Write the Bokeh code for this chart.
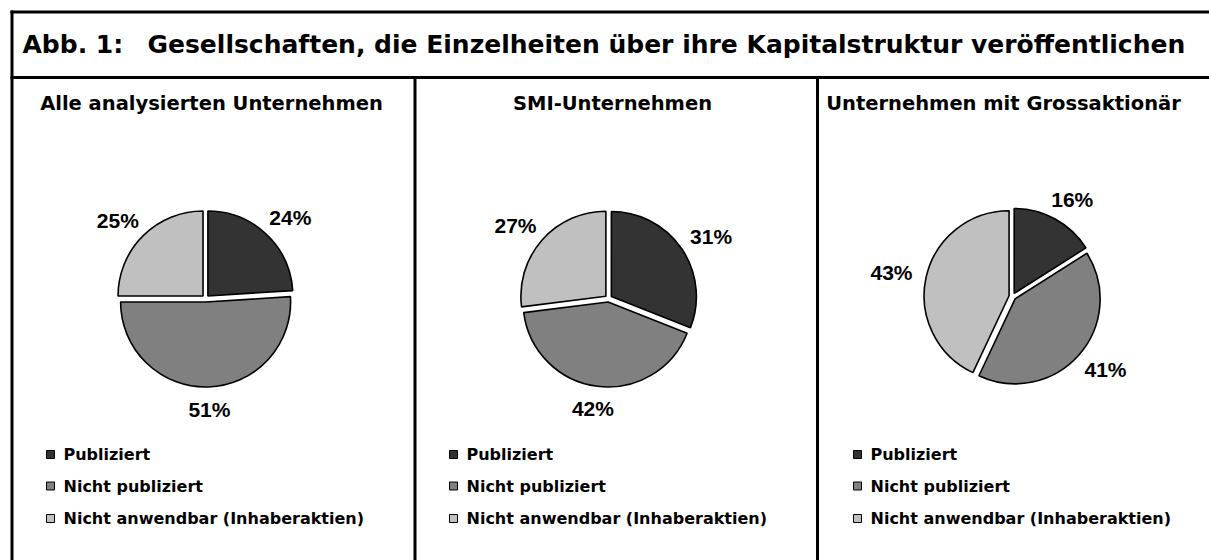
import math
from bokeh.plotting import figure
from bokeh.models import Range1d
from bokeh.core.properties import value
from bokeh.embed import file_html
from bokeh.resources import INLINE

# ---------------- data ----------------
title_prefix = "Abb. 1:"
title_text = "Gesellschaften, die Einzelheiten über ihre Kapitalstruktur veröffentlichen"
panel_titles = ["Alle analysierten Unternehmen", "SMI-Unternehmen", "Unternehmen mit Grossaktionär"]
categories = ["Publiziert", "Nicht publiziert", "Nicht anwendbar (Inhaberaktien)"]
share_all = [24, 51, 25]
share_smi = [31, 42, 27]
share_gross = [16, 41, 43]
colors = ["#333333", "#808080", "#C0C0C0"]

panels = [share_all, share_smi, share_gross]

# ---------------- layout (page pixels) ----------------
PAGE_W, PAGE_H = 1209, 560
def Y(py):
    return PAGE_H - py

pie_centers = [(205, 298), (608, 298), (1012, 296)]
sub_cx = [211, 612, 1003]
R = 85
EXPLODE = 3.5
legend_rows = [454, 485.5, 518]

p = figure(width=PAGE_W, height=PAGE_H, x_range=Range1d(0, PAGE_W), y_range=Range1d(0, PAGE_H),
           output_backend="svg", toolbar_location=None, min_border=0,
           x_axis_location=None, y_axis_location=None)
p.grid.visible = False
p.outline_line_color = None
p.background_fill_color = "white"
p.border_fill_color = "white"

# frame lines
seg_x0 = [10, 11.5, 10, 414.5, 817]
seg_x1 = [PAGE_W, 11.5, PAGE_W, 414.5, 817]
seg_y0 = [Y(11.5), Y(10), Y(77), Y(77), Y(77)]
seg_y1 = [Y(11.5), Y(PAGE_H), Y(77), Y(PAGE_H), Y(PAGE_H)]
p.segment(seg_x0, seg_y0, seg_x1, seg_y1, line_color="black", line_width=3)

# title
bold = dict(text_font_style="bold", text_color="black")
p.text(x=[22], y=[Y(44)], text=[title_prefix], text_font=value("DejaVu Sans"),
       text_font_size="25px", text_align="left", text_baseline="middle", **bold)
p.text(x=[147], y=[Y(44)], text=[title_text], text_font=value("DejaVu Sans"),
       text_font_size="25px", text_align="left", text_baseline="middle", **bold)

# subtitles
p.text(x=sub_cx, y=[Y(102.5)] * 3, text=panel_titles, text_font=value("DejaVu Sans"),
       text_font_size="19.5px", text_align="center", text_baseline="middle", **bold)

for (cx, cy_page), shares in zip(pie_centers, panels):
    cy = Y(cy_page)
    total = float(sum(shares))
    xs, ys, starts, ends, lxs, lys, labels = [], [], [], [], [], [], []
    c0 = 0.0
    for s in shares:
        c1 = c0 + s / total
        a_start = math.pi / 2 - 2 * math.pi * c1
        a_end = math.pi / 2 - 2 * math.pi * c0
        mid = (a_start + a_end) / 2
        xs.append(cx + EXPLODE * math.cos(mid))
        ys.append(cy + EXPLODE * math.sin(mid))
        starts.append(a_start)
        ends.append(a_end)
        rl = R + 18
        lxs.append(cx + rl * math.cos(mid) + 21 * math.cos(mid))
        lys.append(cy + rl * math.sin(mid) + 8 * math.sin(mid))
        labels.append(f"{s}%")
        c0 = c1
    p.wedge(x=xs, y=ys, radius=R, start_angle=starts, end_angle=ends,
            direction="anticlock", fill_color=colors, line_color="black", line_width=1.6)
    p.text(x=lxs, y=lys, text=labels, text_font=value("Liberation Sans"),
           text_font_size="21px", text_align="center", text_baseline="middle", **bold)

    # legend
    sq_x = cx - 155
    p.rect(x=[sq_x] * 3, y=[Y(r) for r in legend_rows], width=8, height=8,
           fill_color=colors, line_color="black", line_width=1)
    p.text(x=[cx - 142] * 3, y=[Y(r) for r in legend_rows], text=categories,
           text_font=value("DejaVu Sans"), text_font_size="16px",
           text_align="left", text_baseline="middle", **bold)

open("out.html", "w").write(file_html(p, INLINE))
